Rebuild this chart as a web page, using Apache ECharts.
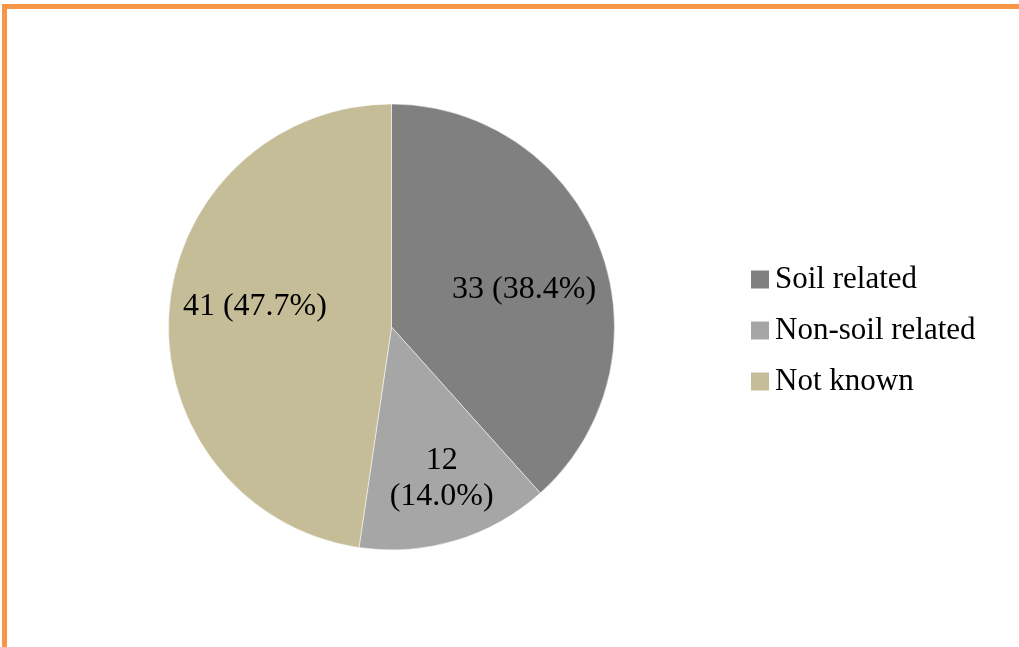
<!DOCTYPE html>
<html>
<head>
<meta charset="utf-8">
<script src="https://cdn.jsdelivr.net/npm/echarts@6/dist/echarts.min.js"></script>
<style>
html,body{margin:0;padding:0;background:#fff;}
#chart{width:1019px;height:647px;}
</style>
</head>
<body>
<div id="chart"></div>
<script>
const categories = ['Soil related', 'Non-soil related', 'Not known'];
const values = [33, 12, 41];
const colors = ['#808080', '#A6A6A6', '#C4BD97'];

const total = values.reduce((a, b) => a + b, 0);
const labelOffsets = [[-1, 14], [9, 15], [6, -10]];
const pieData = categories.map((name, i) => ({ name, value: values[i], itemStyle: { color: colors[i] } }));
const labelData = categories.map((name, i) => ({
  name, value: values[i],
  itemStyle: { color: 'rgba(0,0,0,0)' },
  label: {
    offset: labelOffsets[i],
    formatter: p => p.value + (i === 1 ? '\n' : ' ') + '(' + (p.value / total * 100).toFixed(1) + '%)'
  }
}));

const font = '"Liberation Serif", "Times New Roman", serif';
const chart = echarts.init(document.getElementById('chart'), null, { renderer: 'canvas' });
chart.setOption({
  animation: false,
  backgroundColor: '#fff',
  graphic: [
    { type: 'rect', shape: { x: 2, y: 4, width: 1017, height: 5 }, style: { fill: '#F79646' } },
    { type: 'rect', shape: { x: 2, y: 4, width: 5, height: 643 }, style: { fill: '#F79646' } }
  ],
  legend: {
    orient: 'vertical',
    left: 744,
    top: 259,
    itemWidth: 20,
    itemHeight: 20,
    itemGap: 20,
    icon: 'rect',
    data: categories.map((name, i) => ({ name, itemStyle: { color: colors[i] } })),
    textStyle: { fontFamily: font, fontSize: 31, color: '#000', lineHeight: 31 }
  },
  series: [
    {
      type: 'pie',
      center: [391.5, 327],
      radius: 223,
      startAngle: 90,
      clockwise: true,
      label: { show: false },
      labelLine: { show: false },
      itemStyle: { borderColor: '#fff', borderWidth: 0.5 },
      emphasis: { disabled: true },
      data: pieData
    },
    {
      type: 'pie',
      center: [391.5, 327],
      radius: [57, 223],
      startAngle: 90,
      clockwise: true,
      silent: true,
      legendHoverLink: false,
      label: { show: true, position: 'inside', fontFamily: font, fontSize: 32, color: '#000', lineHeight: 36 },
      labelLine: { show: false },
      emphasis: { disabled: true },
      data: labelData
    }
  ]
});
</script>
</body>
</html>
